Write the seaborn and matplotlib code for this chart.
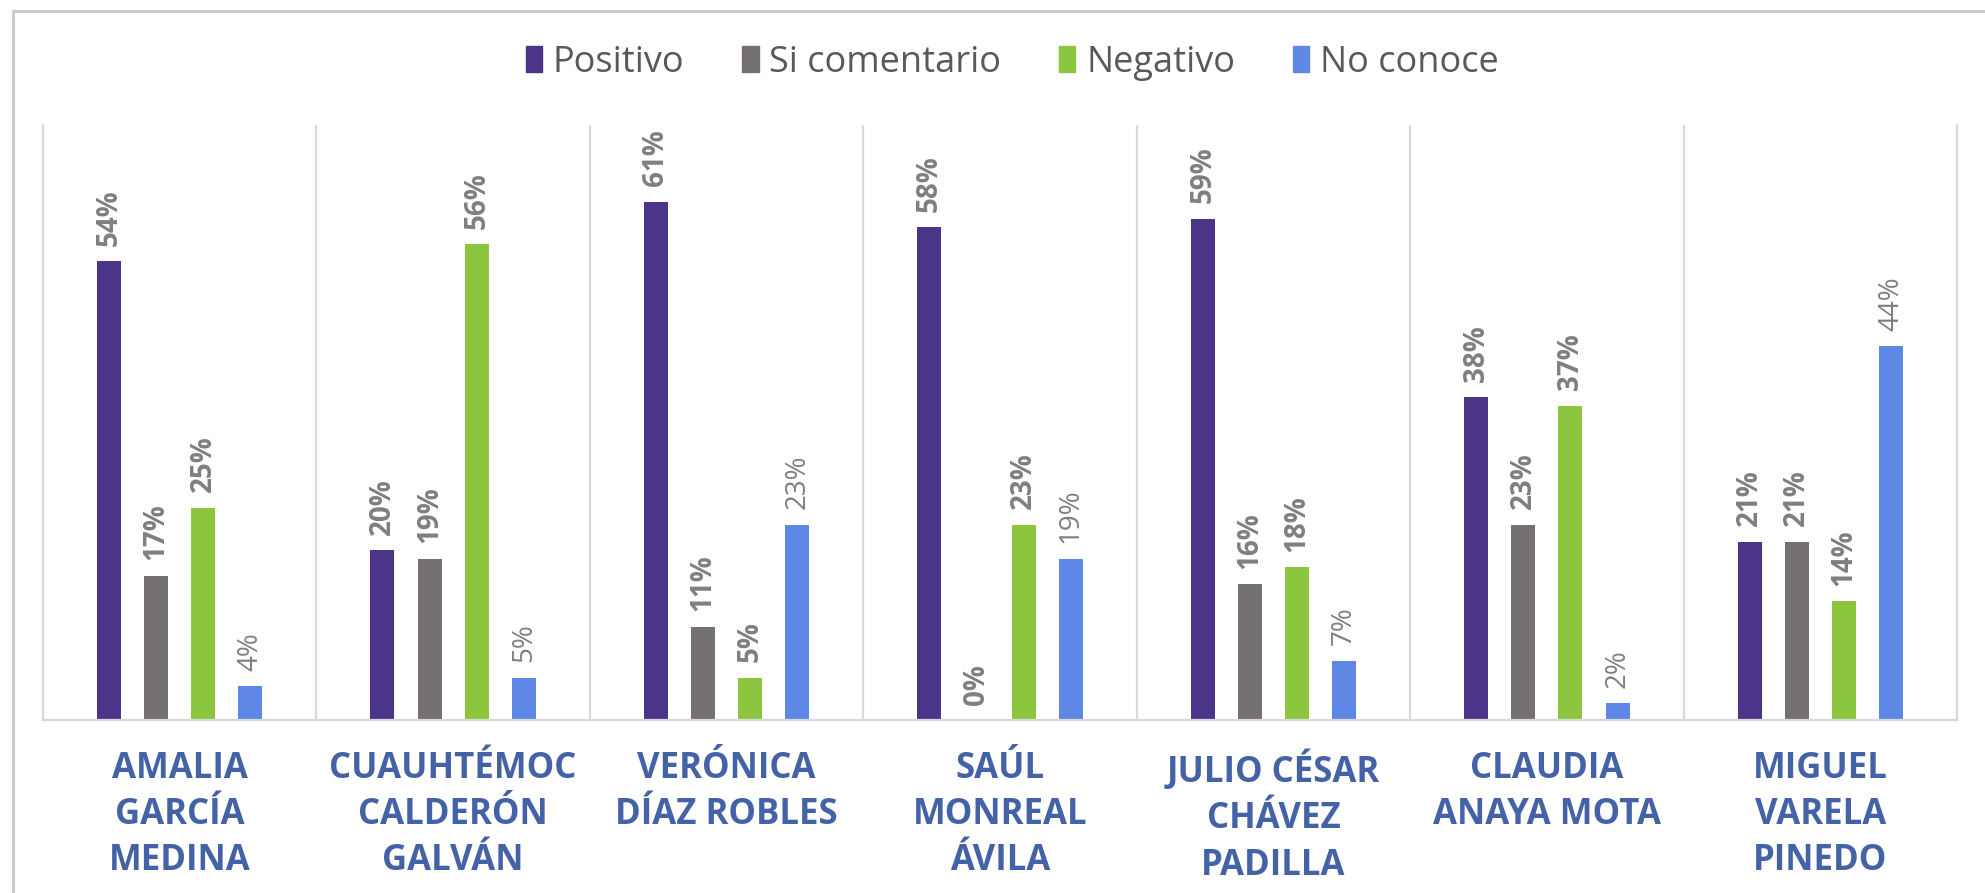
import matplotlib
matplotlib.use("Agg")
import matplotlib.pyplot as plt
from matplotlib.patches import Rectangle
import numpy as np
import pandas as pd
import seaborn as sns

# Data
candidates = [
    "AMALIA\nGARCÍA\nMEDINA",
    "CUAUHTÉMOC\nCALDERÓN\nGALVÁN",
    "VERÓNICA\nDÍAZ ROBLES",
    "SAÚL\nMONREAL\nÁVILA",
    "JULIO CÉSAR\nCHÁVEZ\nPADILLA",
    "CLAUDIA\nANAYA MOTA",
    "MIGUEL\nVARELA\nPINEDO",
]
series = ["Positivo", "Si comentario", "Negativo", "No conoce"]
positivo = [54, 20, 61, 58, 59, 38, 21]
si_comentario = [17, 19, 11, 0, 16, 23, 21]
negativo = [25, 56, 5, 23, 18, 37, 14]
no_conoce = [4, 5, 23, 19, 7, 2, 44]

colors = {
    "Positivo": "#4B3589",
    "Si comentario": "#767171",
    "Negativo": "#8CC63F",
    "No conoce": "#5F87E5",
}

rows = []
for name, vals in zip(series, [positivo, si_comentario, negativo, no_conoce]):
    for cand, v in zip(candidates, vals):
        rows.append({"candidate": cand, "series": name, "value": v})
df = pd.DataFrame(rows)

sns.set_theme(style="white")
plt.rcParams["font.family"] = ["Open Sans", "DejaVu Sans"]

fig = plt.figure(figsize=(19.85, 8.93), dpi=100)
ax = fig.add_axes([43 / 1985, 1 - 720 / 893, (1957 - 43) / 1985, (720 - 125) / 893])

sns.barplot(
    data=df, x="candidate", y="value", hue="series",
    order=candidates, hue_order=series, palette=colors,
    width=0.69, gap=0.49, saturation=1, errorbar=None,
    linewidth=0, ax=ax,
)

# data labels (No conoce labels are not bold in the original)
for name, cont in zip(series, ax.containers):
    vals = df[df["series"] == name].set_index("candidate").loc[candidates, "value"]
    ax.bar_label(
        cont, labels=[f"{v}%" for v in vals], padding=11, rotation=90,
        color="#7F7F7F", fontsize=20,
        fontweight="normal" if name == "No conoce" else "bold",
    )

ax.set_ylim(0, 70)
ax.set_xlim(-0.5, len(candidates) - 0.5)
ax.set_yticks([])
ax.set_xlabel("")
ax.set_ylabel("")

# category dividers
ax.set_xticks(np.arange(-0.5, len(candidates)), minor=True)
ax.grid(which="minor", axis="x", color="#D9D9D9", linewidth=1.6)
ax.tick_params(axis="x", which="both", length=0, pad=22)
for lbl in ax.get_xticklabels():
    lbl.set_fontsize(25)
    lbl.set_fontweight("bold")
    lbl.set_color("#4463A6")
    lbl.set_linespacing(1.38)

for side in ["left", "right", "bottom"]:
    ax.spines[side].set_color("#D9D9D9")
    ax.spines[side].set_linewidth(1.6)
ax.spines["top"].set_visible(False)

ax.legend_.remove()
handles = [Rectangle((0, 0), 1, 1, color=colors[s]) for s in series]
fig.legend(
    handles, series, loc="center", bbox_to_anchor=(0.51, 0.93), ncol=4,
    frameon=False, fontsize=26, handlelength=0.45, handleheight=0.7,
    handletextpad=0.3, columnspacing=1.6, labelcolor="#595959",
)

# outer chart frame
fig.patches.append(Rectangle(
    (13 / 1985, -0.05), 1.0, 1 - 11 / 893 + 0.05, transform=fig.transFigure,
    fill=False, edgecolor="#C8C8C8", linewidth=2,
))

fig.savefig("out.png", dpi=100, facecolor="white")
